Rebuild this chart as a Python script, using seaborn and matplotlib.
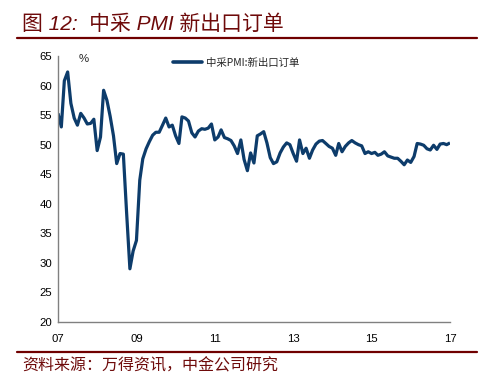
import matplotlib
matplotlib.use("Agg")
import matplotlib.pyplot as plt
import matplotlib.dates as mdates
import seaborn as sns
import pandas as pd
from matplotlib.lines import Line2D

# monthly data, Jan 2007 .. Jan 2017
months = pd.date_range("2007-01-01", "2017-01-01", freq="MS")
new_export_2007 = [55.3, 53.0, 60.8, 62.3, 57.0, 54.5, 53.3, 55.3, 54.5, 53.5, 53.6, 54.3]
new_export_2008 = [49.0, 51.3, 59.2, 57.5, 54.8, 51.5, 46.8, 48.5, 48.4, 38.6, 29.0, 32.0]
new_export_2009 = [33.8, 44.0, 47.6, 49.3, 50.5, 51.6, 52.1, 52.1, 53.3, 54.5, 53.0, 53.3]
new_export_2010 = [51.5, 50.2, 54.7, 54.5, 54.0, 52.0, 51.3, 52.3, 52.7, 52.6, 52.8, 53.5]
new_export_2011 = [50.8, 51.3, 52.5, 51.2, 51.0, 50.7, 49.8, 48.5, 50.8, 47.5, 45.6, 48.6]
new_export_2012 = [46.9, 51.5, 51.8, 52.2, 50.3, 47.8, 46.8, 47.1, 48.6, 49.6, 50.3, 50.0]
new_export_2013 = [48.5, 47.2, 50.8, 48.5, 49.4, 47.7, 49.1, 50.1, 50.6, 50.7, 50.2, 49.7]
new_export_2014 = [49.4, 48.2, 50.2, 48.8, 49.7, 50.3, 50.7, 50.3, 50.0, 49.8, 48.5, 48.8]
new_export_2015 = [48.5, 48.7, 48.2, 48.4, 48.8, 48.1, 47.9, 47.7, 47.7, 47.2, 46.6, 47.4]
new_export_2016 = [47.0, 48.0, 50.2, 50.1, 49.9, 49.3, 49.1, 49.9, 49.2, 50.1, 50.2, 50.0]
new_export_2017 = [50.3]

values = (new_export_2007 + new_export_2008 + new_export_2009 + new_export_2010
          + new_export_2011 + new_export_2012 + new_export_2013 + new_export_2014
          + new_export_2015 + new_export_2016 + new_export_2017)

x_ticks = pd.to_datetime(["2007-01-01", "2009-01-01", "2011-01-01",
                          "2013-01-01", "2015-01-01", "2017-01-01"])

series_name = "中采PMI:新出口订单"
df = pd.DataFrame({"month": months, "value": values, "series": series_name})

sns.set_style("white")
plt.rcParams["font.family"] = ["Liberation Sans", "Noto Sans CJK SC", "DejaVu Sans"]

line_color = "#0d3c6b"
red = "#6e0a0a"

fig = plt.figure(figsize=(4.99, 3.81), dpi=100)
ax = fig.add_axes([58 / 499, 1 - 322 / 381, (450 - 58) / 499, (322 - 56) / 381])

sns.lineplot(data=df, x="month", y="value", color=line_color, linewidth=2.3,
             ax=ax, legend=False)
for ln in ax.get_lines():
    ln.set_solid_joinstyle("round")
    ln.set_solid_capstyle("butt")

ax.set_xlim(pd.Timestamp("2007-01-01"), pd.Timestamp("2017-01-01"))
ax.set_ylim(20, 65)
ax.set_yticks(range(20, 66, 5))
ax.set_xticks(x_ticks)
ax.xaxis.set_major_formatter(mdates.DateFormatter("%y"))
ax.set_xlabel("")
ax.set_ylabel("")

for s in ["top", "right"]:
    ax.spines[s].set_visible(False)
for s in ["left", "bottom"]:
    ax.spines[s].set_color("#808080")
    ax.spines[s].set_linewidth(1.0)

ax.tick_params(axis="both", direction="in", length=3, width=1.0, color="#808080",
               labelsize=8.2, labelcolor="#000000")
ax.tick_params(axis="x", pad=8.5)
ax.tick_params(axis="y", pad=4)

ax.text(83.5 / 499, 1 - 59 / 381, "%", transform=fig.transFigure, fontsize=8.2,
        ha="center", va="center")

handle = Line2D([], [], color=line_color, linewidth=2.6)
ax.legend([handle], [series_name], loc="center left", frameon=False,
          bbox_to_anchor=(173 / 499, 1 - 63 / 381), bbox_transform=fig.transFigure,
          borderpad=0, borderaxespad=0, handlelength=2.8, handletextpad=0.4,
          prop={"family": ["Noto Sans CJK SC"], "size": 7.5})

# header and footer
fig.text(22 / 499, 1 - 24 / 381, "图 12:  中采 PMI 新出口订单", fontsize=15,
         color=red, ha="left", va="center", style="italic",
         family=["Liberation Sans", "Noto Sans CJK SC"])
fig.add_artist(Line2D([17 / 499, 477 / 499], [1 - 38 / 381] * 2, color="#700000",
                      linewidth=1.6))
fig.add_artist(Line2D([17 / 499, 477 / 499], [1 - 352 / 381] * 2, color="#700000",
                      linewidth=1.6))
fig.text(22 / 499, 1 - 366 / 381, "资料来源：万得资讯，中金公司研究", fontsize=11.5,
         color=red, ha="left", va="center", style="italic",
         family=["Noto Sans CJK SC"])

fig.savefig("out.png", dpi=100)
